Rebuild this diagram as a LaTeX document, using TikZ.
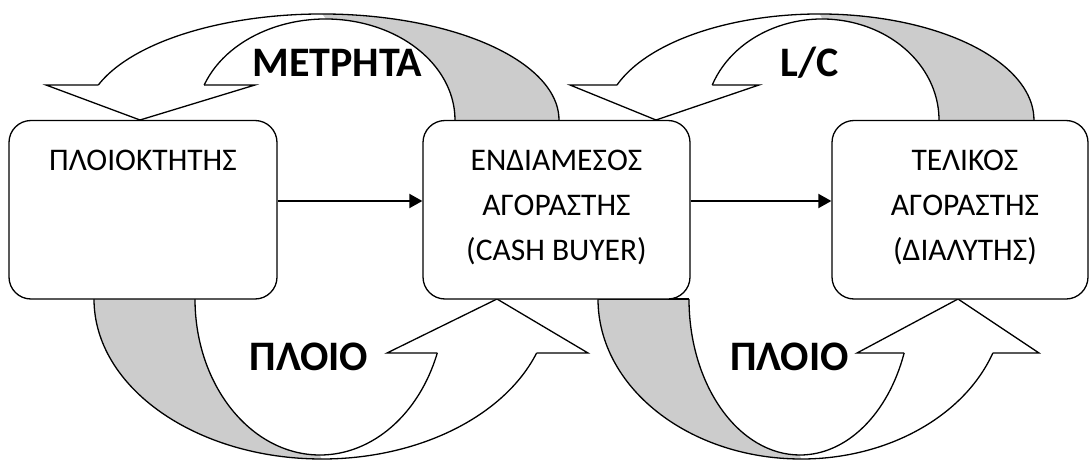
\documentclass[tikz,border=0pt]{standalone}
\usepackage{fontspec}
\setmainfont{Carlito}
\usetikzlibrary{arrows.meta}
\definecolor{backgray}{RGB}{204,204,204}
\begin{document}
\begin{tikzpicture}[x=1pt,y=-1pt,line width=1.3pt,
  box/.style={draw,fill=white,rounded corners=22pt,inner sep=0pt},
  boxtext/.style={font=\fontsize{31.5}{38}\selectfont,anchor=base,inner sep=0pt},
  lbl/.style={font=\bfseries\fontsize{42}{50}\selectfont,anchor=base,inner sep=0pt},
  back/.style={fill=backgray},
  front/.style={fill=white},
  flow/.style={-{Triangle[length=13pt,width=14pt]},line width=1.9pt}]
\useasboundingbox (0,0) rectangle (1089,460);

% ---- top-left curved arrow (ΜΕΤΡΗΤΑ) ----
\fill[back] (322,14) arc[start angle=90,end angle=0,x radius=237pt,y radius=106pt]
  -- (455,120) arc[start angle=0,end angle=90,x radius=129.4pt,y radius=101pt] -- cycle;
\fill[front] (98.3,85) arc[start angle=160.72,end angle=90,x radius=237pt,y radius=106pt]
  -- (325.6,19) arc[start angle=90,end angle=159.72,x radius=129.4pt,y radius=101pt]
  -- (255,85) -- (140,120) -- (46,85) -- cycle;
\draw (98.3,85) arc[start angle=160.72,end angle=0,x radius=237pt,y radius=106pt];
\draw (204.2,85) arc[start angle=159.72,end angle=0,x radius=129.4pt,y radius=101pt];
\draw (204.2,85) -- (255,85) -- (140,120) -- (46,85) -- (98.3,85);

% ---- top-right curved arrow (L/C) ----
\fill[back] (819.5,14) arc[start angle=90,end angle=0,x radius=214.5pt,y radius=106pt]
  -- (939,120) arc[start angle=0,end angle=90,x radius=117pt,y radius=101pt] -- cycle;
\fill[front] (617,85) arc[start angle=160.72,end angle=90,x radius=214.5pt,y radius=106pt]
  -- (822,19) arc[start angle=90,end angle=159.72,x radius=117pt,y radius=101pt]
  -- (759,85) -- (656,120) -- (570,85) -- cycle;
\draw (617,85) arc[start angle=160.72,end angle=0,x radius=214.5pt,y radius=106pt];
\draw (712.25,85) arc[start angle=159.72,end angle=0,x radius=117pt,y radius=101pt];
\draw (712.25,85) -- (759,85) -- (656,120) -- (570,85) -- (617,85);

% ---- bottom-left curved arrow (ΠΛΟΙΟ) ----
\fill[back] (94,299) arc[start angle=180,end angle=270,x radius=228pt,y radius=160pt]
  -- (320,455) arc[start angle=270,end angle=180,x radius=125pt,y radius=156pt] -- cycle;
\fill[front] (536.6,353) arc[start angle=-19.72,end angle=-90,x radius=228pt,y radius=160pt]
  -- (320,455) arc[start angle=-90,end angle=-20.25,x radius=125pt,y radius=156pt]
  -- (387,353) -- (497,299) -- (588,353) -- cycle;
\draw (94,299) arc[start angle=180,end angle=340.28,x radius=228pt,y radius=160pt];
\draw (195,299) arc[start angle=180,end angle=339.75,x radius=125pt,y radius=156pt];
\draw (437.3,353) -- (387,353) -- (497,299) -- (588,353) -- (536.6,353);

% ---- bottom-right curved arrow (ΠΛΟΙΟ) ----
\fill[back] (598,299) arc[start angle=180,end angle=270,x radius=203.4pt,y radius=160pt]
  -- (800,455) arc[start angle=270,end angle=180,x radius=111pt,y radius=156pt] -- cycle;
\fill[front] (992.9,353) arc[start angle=-19.72,end angle=-90,x radius=203.4pt,y radius=160pt]
  -- (800,455) arc[start angle=-90,end angle=-20.25,x radius=111pt,y radius=156pt]
  -- (857,353) -- (958,299) -- (1039,353) -- cycle;
\draw (598,299) arc[start angle=180,end angle=340.28,x radius=203.4pt,y radius=160pt];
\draw (689,299) arc[start angle=180,end angle=339.75,x radius=111pt,y radius=156pt];
\draw (904.1,353) -- (857,353) -- (958,299) -- (1039,353) -- (992.9,353);
\draw (598,299) -- (689,299);

% ---- boxes ----
\node[box,minimum width=268pt,minimum height=178.5pt] (b1) at (143,209.75) {};
\node[box,minimum width=267pt,minimum height=178.5pt] (b2) at (556.5,209.75) {};
\node[box,minimum width=256pt,minimum height=178.5pt] (b3) at (960,209.75) {};

\node[boxtext] (t1) at (143,170) {ΠΛΟΙΟΚΤΗΤΗΣ};
\node[boxtext] (t2a) at (556.5,170) {ΕΝΔΙΑΜΕΣΟΣ};
\node[boxtext] (t2b) at (556.5,215) {ΑΓΟΡΑΣΤΗΣ};
\node[boxtext] (t2c) at (556.5,260) {(CASH BUYER)};
\node[boxtext] (t3a) at (965,170) {ΤΕΛΙΚΟΣ};
\node[boxtext] (t3b) at (965,215) {ΑΓΟΡΑΣΤΗΣ};
\node[boxtext] (t3c) at (965,260) {(ΔΙΑΛΥΤΗΣ)};

% ---- straight flows ----
\coordinate (fy) at (0,201);
\draw[flow] (b1.east |- fy) -- (b2.west |- fy);
\draw[flow] (b2.east |- fy) -- (b3.west |- fy);

% ---- labels ----
\node[lbl] (metrita) at (337.5,77) {ΜΕΤΡΗΤΑ};
\node[lbl] (lc) at (810,77) {L/C};
\node[lbl] (ploio1) at (309,370) {ΠΛΟΙΟ};
\node[lbl] (ploio2) at (789.5,370) {ΠΛΟΙΟ};
\end{tikzpicture}
\end{document}
